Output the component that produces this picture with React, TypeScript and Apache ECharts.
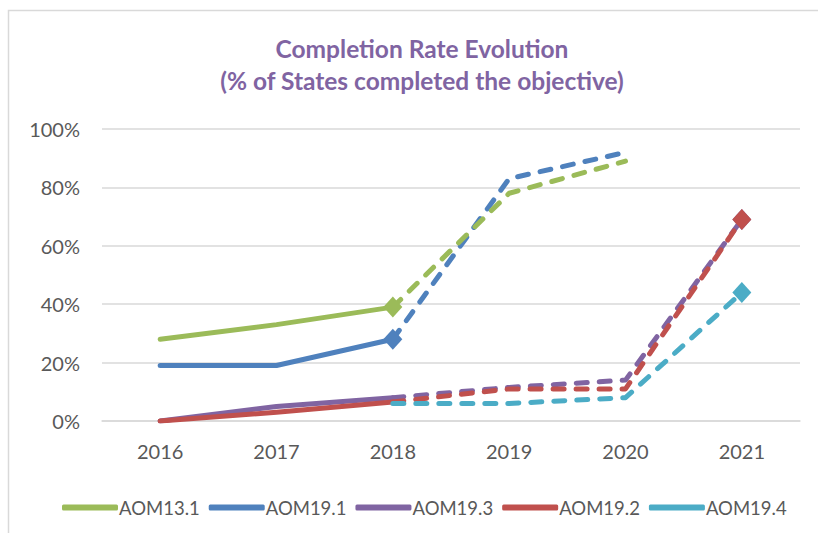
import React, { useEffect, useRef } from "react";
import * as echarts from "echarts";

const years = ["2016", "2017", "2018", "2019", "2020", "2021"];
const yTicks = [0, 20, 40, 60, 80, 100];

const aom131Actual = [28, 33, 39, null, null, null];
const aom131Planned = [null, null, 39, 78, 89, null];
const aom191Actual = [19, 19, 28, null, null, null];
const aom191Planned = [null, null, 28, 83, 92, null];
const aom193Actual = [0, 5, 8, null, null, null];
const aom193Planned = [null, null, 8, 11.5, 14, 69];
const aom192Actual = [0, 3, 6.5, null, null, null];
const aom192Planned = [null, null, 6.5, 11, 11, 69];
const aom194Planned = [null, null, 6, 6, 8, 44];

const FONT = "Lato, 'Liberation Sans', sans-serif";

export default function App() {
  const ref = useRef<HTMLDivElement>(null);
  useEffect(() => {
    if (!ref.current) return;
    const chart = echarts.init(ref.current, undefined, { renderer: "svg" });

    const lastIdx = (arr: (number | null)[]) => {
      let k = -1;
      arr.forEach((v, i) => {
        if (v !== null) k = i;
      });
      return k;
    };

    const mk = (
      name: string,
      color: string,
      data: (number | null)[],
      dashed: boolean,
      markEnd: boolean
    ) => {
      const endIdx = lastIdx(data);
      return {
        type: "line",
        name,
        data,
        color,
        symbol: "diamond",
        showSymbol: true,
        showAllSymbol: true,
        symbolSize: (_v: any, p: any) => (markEnd && p.dataIndex === endIdx ? [19, 21] : 0),
        itemStyle: { color },
        lineStyle: {
          color,
          width: 5,
          type: dashed ? [11, 12] : "solid",
          cap: "round",
          join: "round",
        },
        emphasis: { disabled: true },
        connectNulls: false,
        z: 2,
      };
    };

    const green = "#9BBB59";
    const blue = "#4F81BD";
    const purple = "#8064A2";
    const red = "#C0504D";
    const cyan = "#4BACC6";

    chart.setOption({
      animation: false,
      backgroundColor: "#ffffff",
      title: {
        text: "Completion Rate Evolution\n(% of States completed the objective)",
        left: 422,
        top: 32,
        padding: 0,
        textAlign: "center",
        textStyle: {
          fontFamily: FONT,
          fontSize: 24.5,
          fontWeight: "bold",
          color: "#8064A2",
          lineHeight: 32,
        },
      },
      graphic: [
        {
          type: "rect",
          shape: { x: 8.5, y: 10.5, width: 840, height: 560 },
          style: { fill: "none", stroke: "#d9d9d9", lineWidth: 1.5 },
          silent: true,
          z: -10,
        },
      ],
      legend: {
        left: 57,
        top: 493,
        itemWidth: 56,
        itemHeight: 6,
        itemGap: 9,
        icon: "roundRect",
        textStyle: { fontFamily: FONT, fontSize: 18.5, color: "#595959", padding: [0, 0, 0, -4] },
        data: ["AOM13.1", "AOM19.1", "AOM19.3", "AOM19.2", "AOM19.4"],
        selectedMode: false,
      },
      grid: { left: 102, right: 18, top: 129, bottom: 112, containLabel: false },
      xAxis: {
        type: "category",
        data: years,
        boundaryGap: true,
        axisTick: { show: false },
        axisLine: { lineStyle: { color: "#d9d9d9", width: 1.5 } },
        axisLabel: { fontFamily: FONT, fontSize: 20, color: "#595959", margin: 20 },
      },
      yAxis: {
        type: "value",
        min: yTicks[0],
        max: yTicks[yTicks.length - 1],
        interval: 20,
        axisLine: { show: false },
        axisTick: { show: false },
        splitLine: { lineStyle: { color: "#d9d9d9", width: 1.5 } },
        axisLabel: {
          fontFamily: FONT,
          fontSize: 20,
          color: "#595959",
          margin: 22,
          formatter: "{value}%",
        },
      },
      series: [
        mk("AOM13.1", green, aom131Actual, false, true),
        mk("AOM19.1", blue, aom191Actual, false, true),
        mk("AOM19.1", blue, aom191Planned, true, false),
        mk("AOM13.1", green, aom131Planned, true, false),
        mk("AOM19.3", purple, aom193Actual, false, false),
        mk("AOM19.3", purple, aom193Planned, true, true),
        mk("AOM19.2", red, aom192Actual, false, false),
        mk("AOM19.2", red, aom192Planned, true, true),
        mk("AOM19.4", cyan, aom194Planned, true, true),
      ],
    });
    return () => chart.dispose();
  }, []);
  return (
    <div
      ref={ref}
      style={{ position: "fixed", left: 0, top: 0, width: 818, height: 533, background: "#fff" }}
    />
  );
}
